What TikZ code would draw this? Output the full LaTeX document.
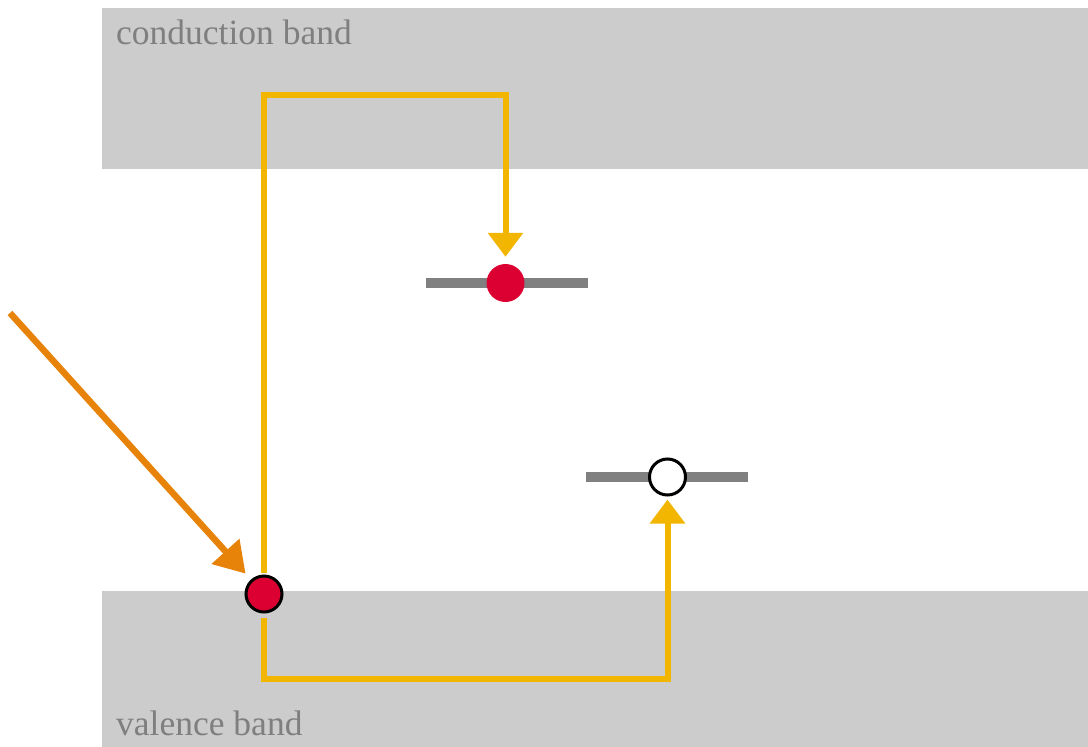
\documentclass[tikz,border=0pt]{standalone}
\usepackage{fontspec}
\setmainfont{Liberation Serif}
\usetikzlibrary{arrows.meta}
\definecolor{bandgray}{HTML}{CCCCCC}
\definecolor{labelgray}{HTML}{7F7F7F}
\definecolor{levelgray}{HTML}{808080}
\definecolor{yel}{HTML}{F2B600}
\definecolor{org}{HTML}{E8830A}
\definecolor{dotred}{HTML}{DC0032}
\tikzset{
  band/.style={fill=bandgray, draw=none},
  bandlabel/.style={anchor=base west, inner sep=0pt, text=labelgray, font=\fontsize{35.5}{40}\selectfont},
  level/.style={draw=levelgray, line width=9.5pt},
  electron/.style={circle, fill=dotred, minimum size=38pt, inner sep=0pt},
  electronb/.style={circle, fill=dotred, draw=black, line width=3pt, minimum size=36pt, inner sep=0pt},
  hole/.style={circle, fill=white, draw=black, line width=3pt, minimum size=36pt, inner sep=0pt},
  ypath/.style={draw=yel, line width=6pt, -{Triangle[length=24pt,width=34pt]}},
  oarrow/.style={draw=org, line width=6.5pt, -{Triangle[length=30pt,width=36pt]}},
}
\begin{document}
\begin{tikzpicture}[x=1pt,y=-1pt]
\useasboundingbox (0,0) rectangle (1088,747);
% bands
\path[band] (102,8) rectangle (1088,169);
\path[band] (102,591) rectangle (1088,747);
\node[bandlabel] (cb) at (116,44) {conduction band};
\node[bandlabel] (vb) at (116,735) {valence band};
% levels
\draw[level] (426,283) -- (588,283);
\draw[level] (586,477) -- (748,477);
% particles
\node[electron] (cdot) at (505.5,283) {};
\node[hole] (hdot) at (667.5,477) {};
\node[electronb] (vdot) at (264,594) {};
% helper coordinates
\coordinate (top) at (264,95);
\coordinate (bot) at (264,679);
\coordinate (src) at (10,313);
% yellow transitions
\draw[ypath, shorten <=2pt, shorten >=7pt] (vdot.north) -- (top) -| (cdot.north);
\draw[ypath, shorten <=4pt, shorten >=3pt] (vdot.south) -- (bot) -| (hdot.south);
% incoming photon
\draw[oarrow, shorten >=8pt] (src) -- (vdot);
\end{tikzpicture}
\end{document}
